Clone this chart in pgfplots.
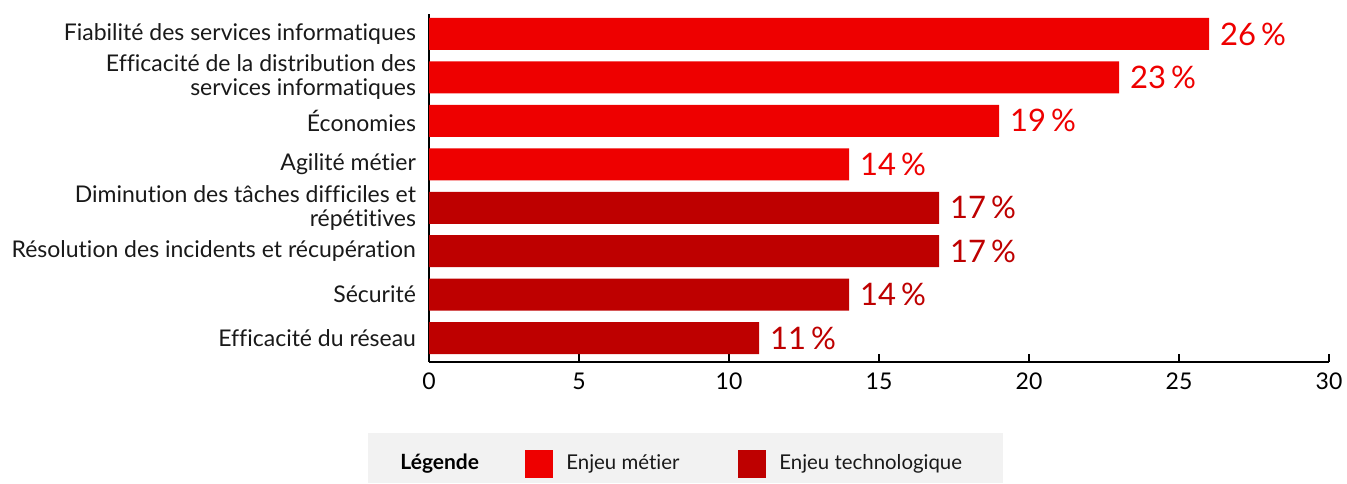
\documentclass[border=0pt]{standalone}
\usepackage{pgfplots}
\pgfplotsset{compat=1.18}
\usepackage{fontspec}
\setmainfont{Lato}[Ligatures={NoCommon}]
\definecolor{bizred}{HTML}{EE0000}
\definecolor{techred}{HTML}{BE0000}
\definecolor{legbg}{HTML}{F2F2F2}
\begin{document}
\begin{tikzpicture}
\useasboundingbox (0,0) rectangle (673.5pt,241.5pt);
\begin{axis}[
  at={(214.5pt,60.5pt)}, anchor=south west,
  scale only axis, width=450pt, height=174pt,
  xbar, bar width=16pt, bar shift=0pt,
  y dir=reverse,
  xmin=0, xmax=30, ymin=-0.46, ymax=7.55,
  axis x line=bottom, axis y line=left,
  axis line style={line width=1pt, -},
  xtick={0,5,...,30},
  major tick length=4pt,
  tick align=inside,
  x tick style={line width=1pt, black},
  ytick={0,...,7},
  y tick style={draw=none},
  yticklabels={Fiabilité des services informatiques,{Efficacité de la distribution des\\services informatiques},Économies,Agilité métier,{Diminution des tâches difficiles et\\répétitives},Résolution des incidents et récupération,Sécurité,Efficacité du réseau},
  yticklabel style={align=right, font=\fontsize{11.5}{12}\selectfont, text=black!90, xshift=-3pt},
  xticklabel style={font=\fontsize{11.5}{13}\selectfont, yshift=-2pt},
  /pgf/number format/assume math mode=true,
  nodes near coords={\pgfmathprintnumber\pgfplotspointmeta\,\%},
  nodes near coords align={horizontal},
  every node near coord/.append style={font=\fontsize{15.5}{16}\selectfont, xshift=2pt},
  clip=false,
]
\addplot[fill=bizred, draw=none, every node near coord/.append style={text=bizred}] coordinates {(26,0) (23,1) (19,2) (14,3)};
\addplot[fill=techred, draw=none, every node near coord/.append style={text=techred}] coordinates {(17,4) (17,5) (14,6) (11,7)};
\end{axis}
\fill[legbg] (184pt,0pt) rectangle (501.5pt,25pt);
\node[anchor=west, font=\fontsize{10.5}{11}\selectfont\bfseries, inner sep=0pt] at (200pt,9.5pt) {Légende};
\fill[bizred] (262.5pt,2.5pt) rectangle (276.5pt,16.5pt);
\node[anchor=west, font=\fontsize{10.2}{11}\selectfont, inner sep=0pt, text=black!90] at (283pt,9.5pt) {Enjeu métier};
\fill[techred] (369pt,2.5pt) rectangle (383pt,16.5pt);
\node[anchor=west, font=\fontsize{10.2}{11}\selectfont, inner sep=0pt, text=black!90] at (389.5pt,9.5pt) {Enjeu technologique};
\end{tikzpicture}
\end{document}
